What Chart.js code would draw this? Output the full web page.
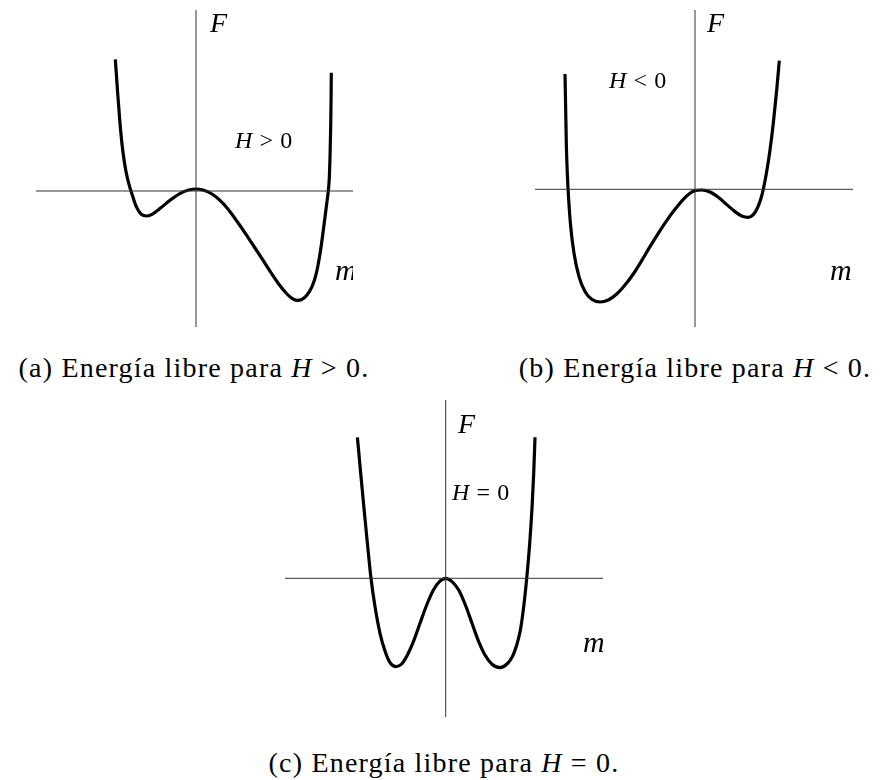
<!DOCTYPE html>
<html>
<head>
<meta charset="utf-8">
<script src="https://cdn.jsdelivr.net/npm/chart.js@4.4.1/dist/chart.umd.min.js"></script>
<style>
  body { margin: 0; background: #fff; }
  #page { position: relative; width: 883px; height: 780px; overflow: hidden; background: #fff; }
  canvas { position: absolute; }
  .cap {
    position: absolute; width: 460px; text-align: center;
    font: 28px "Liberation Serif", serif; letter-spacing: 1.2px;
    line-height: 32px; color: #000; white-space: nowrap;
  }
  .cap i { font-style: italic; }
</style>
</head>
<body>
<div id="page">
  <canvas id="plotA" width="317" height="317" style="left:36px; top:10px;"></canvas>
  <canvas id="plotB" width="318" height="317" style="left:535px; top:10px;"></canvas>
  <canvas id="plotC" width="318" height="317" style="left:285px; top:400px;"></canvas>
  <div class="cap" style="left:-36px; top:352px;">(a) Energía libre para <i>H</i> &gt; 0.</div>
  <div class="cap" style="left:465px; top:352px;">(b) Energía libre para <i>H</i> &lt; 0.</div>
  <div class="cap" style="left:214px; top:747px;">(c) Energía libre para <i>H</i> = 0.</div>
</div>
<script>
// free energy F(m), sampled along each curve
const mA = [-8.07, -7.83, -7.60, -7.33, -7.03, -6.70, -6.37, -5.97, -5.50, -4.97, -4.40, -3.57, -2.57, -1.57, -0.73, 0,
  0.77, 1.60, 2.43, 3.27, 4.10, 4.93, 5.77, 6.60, 7.43, 8.27, 9.10, 9.60, 10.10, 10.60, 11.10, 11.60, 12.03, 12.43,
  12.80, 13.08, 13.27, 13.34, 13.40, 13.47, 13.51, 13.53];
const fA = [13.17, 9.77, 6.77, 4.10, 2.10, 0.67, -0.40, -1.57, -2.30, -2.50, -2.33, -1.73, -0.90, -0.23, 0.10, 0.20,
  0.07, -0.30, -0.97, -1.90, -3.03, -4.23, -5.50, -6.77, -8.07, -9.30, -10.30, -10.73, -10.93, -10.83, -10.40, -9.57, -8.23, -6.10,
  -3.40, -1.20, 0.40, 1.50, 3.30, 6.50, 9.50, 11.83];

const mB = [-13.00, -12.93, -12.87, -12.77, -12.63, -12.43, -12.10, -11.60, -11.00, -10.33, -9.50, -8.67, -7.83, -7.00,
  -6.17, -5.33, -4.50, -3.67, -2.83, -2.00, -1.17, -0.50, 0, 0.67, 1.50, 2.33, 3.17, 4.00, 4.67, 5.33, 5.83, 6.23,
  6.57, 6.83, 7.17, 7.50, 7.83, 8.17, 8.43];
const fB = [11.53, 7.93, 4.60, 1.60, -1.07, -3.73, -6.40, -8.73, -10.23, -11.00, -11.27, -11.07, -10.47, -9.57,
  -8.47, -7.13, -5.73, -4.40, -3.13, -2.00, -1.00, -0.40, -0.13, -0.07, -0.27, -0.80, -1.53, -2.23, -2.67, -2.80, -2.53, -1.90,
  -1.00, 0, 1.77, 3.93, 6.60, 9.93, 12.87];

const mC = [-8.83, -8.50, -8.17, -7.83, -7.47, -7.07, -6.57, -6.07, -5.57, -4.97, -4.40, -3.83, -3.23, -2.57, -1.90,
  -1.23, -0.63, 0, 0.63, 1.30, 1.97, 2.63, 3.30, 3.93, 4.60, 5.43, 6.10, 6.67, 7.10, 7.47, 7.80, 8.10, 8.40, 8.63,
  8.80, 8.93];
const fC = [14.10, 10.50, 7.00, 3.50, 0, -2.83, -5.50, -7.27, -8.43, -8.83, -8.57, -7.67, -6.33, -4.50, -2.67,
  -1.17, -0.33, 0, -0.33, -1.17, -2.67, -4.50, -6.33, -7.67, -8.57, -8.93, -8.60, -7.83, -6.67, -5.17, -2.83, 0, 3.50, 7.00,
  10.50, 14.10];

// axis ranges for each panel (m, F)
const rangeA = { m: [-16.0, 15.7], f: [-13.6, 18.1] };
const rangeB = { m: [-16.0, 15.8], f: [-13.77, 17.93] };
const rangeC = { m: [-16.07, 15.73], f: [-13.87, 17.83] };

const fieldA = "H > 0", fieldB = "H < 0", fieldC = "H = 0";
const axisLabelF = "F", axisLabelM = "m";

const toPoints = (ms, fs) => ms.map((m, i) => ({ x: m, y: fs[i] }));

// draw "H > 0" style text: italic H, upright relation and number
function drawField(ctx, text, x, y, size) {
  const parts = text.split(" ");
  ctx.font = `italic ${size}px "Liberation Serif", serif`;
  ctx.fillText(parts[0], x, y);
  x += ctx.measureText(parts[0]).width + size * 0.3;
  ctx.font = `${size}px "Liberation Serif", serif`;
  ctx.fillText(parts[1], x, y);
  x += ctx.measureText(parts[1]).width + size * 0.3;
  ctx.fillText(parts[2], x, y);
}

const labelsPlugin = {
  id: "panelLabels",
  afterDatasetsDraw(chart, args, opts) {
    const { ctx, scales } = chart;
    const px = (m) => scales.x.getPixelForValue(m);
    const py = (f) => scales.y.getPixelForValue(f);
    ctx.save();
    ctx.fillStyle = "#000";
    ctx.textBaseline = "alphabetic";
    ctx.font = 'italic 28px "Liberation Serif", serif';
    ctx.fillText(axisLabelF, px(opts.fPos[0]), py(opts.fPos[1]));
    ctx.font = 'italic 30px "Liberation Serif", serif';
    ctx.fillText(axisLabelM, px(opts.mPos[0]), py(opts.mPos[1]));
    drawField(ctx, opts.field, px(opts.hPos[0]), py(opts.hPos[1]), 24);
    ctx.restore();
  },
};

function makePanel(id, ms, fs, range, field, pos) {
  const ctx = document.getElementById(id).getContext("2d");
  new Chart(ctx, {
    type: "scatter",
    data: {
      datasets: [
        {
          data: [{ x: range.m[0], y: 0 }, { x: range.m[1], y: 0 }],
          borderColor: "#333",
          borderWidth: 1,
          showLine: true,
          pointRadius: 0,
        },
        {
          data: [{ x: 0, y: range.f[0] }, { x: 0, y: range.f[1] }],
          borderColor: "#333",
          borderWidth: 1,
          showLine: true,
          pointRadius: 0,
        },
        {
          data: toPoints(ms, fs),
          borderColor: "#000",
          borderWidth: 3.2,
          showLine: true,
          cubicInterpolationMode: "monotone",
          pointRadius: 0,
          clip: false,
        },
      ],
    },
    options: {
      responsive: false,
      animation: false,
      devicePixelRatio: 1,
      layout: { padding: 0 },
      plugins: {
        legend: { display: false },
        tooltip: { enabled: false },
        panelLabels: { field: field, ...pos },
      },
      scales: {
        x: { type: "linear", min: range.m[0], max: range.m[1], display: false },
        y: { type: "linear", min: range.f[0], max: range.f[1], display: false },
      },
    },
    plugins: [labelsPlugin],
  });
}

makePanel("plotA", mA, fA, rangeA, fieldA, { fPos: [1.4, 15.9], hPos: [3.9, 4.3], mPos: [13.9, -8.9] });
makePanel("plotB", mB, fB, rangeB, fieldB, { fPos: [1.2, 15.73], hPos: [-8.6, 10.13], mPos: [13.5, -9.07] });
makePanel("plotC", mC, fC, rangeC, fieldC, { fPos: [1.23, 14.53], hPos: [0.63, 7.83], mPos: [13.73, -7.37] });
</script>
</body>
</html>
